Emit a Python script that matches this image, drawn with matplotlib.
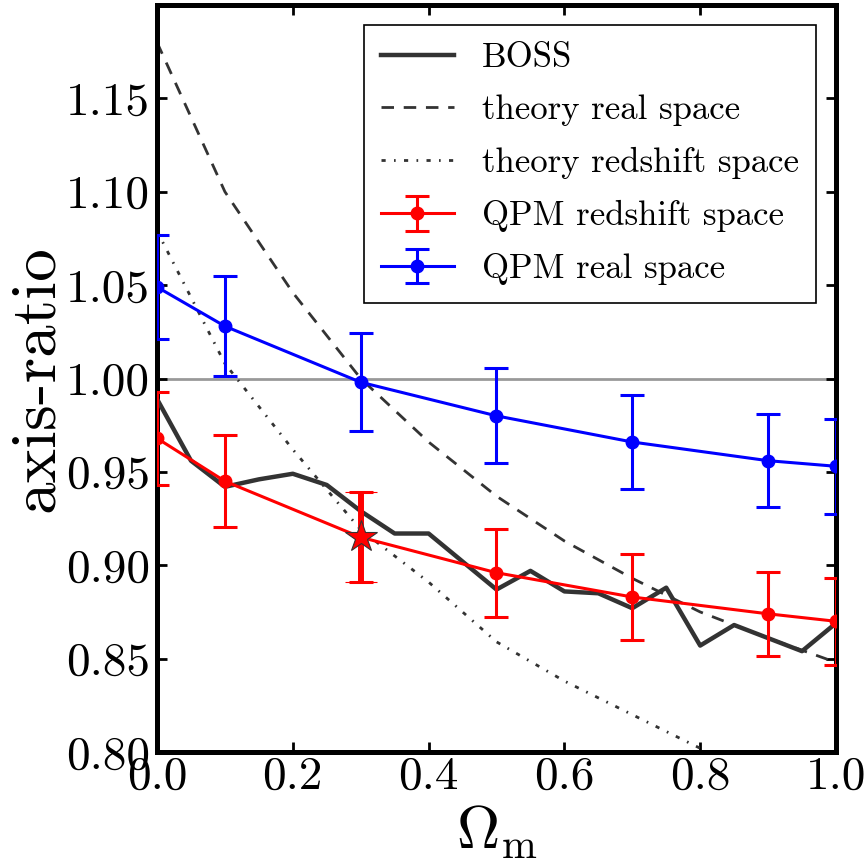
import numpy as np
import matplotlib
matplotlib.use("Agg")
import matplotlib.pyplot as plt

# ------------------- DADOS -------------------
omega_boss = [0.0, 0.05, 0.1, 0.15, 0.2, 0.25, 0.3, 0.35, 0.4, 0.45, 0.5,
              0.55, 0.6, 0.65, 0.7, 0.75, 0.8, 0.85, 0.9, 0.95, 1.0]
ratio_boss = [0.989, 0.956, 0.942, 0.946, 0.949, 0.943, 0.929, 0.917, 0.917, 0.902, 0.887,
              0.897, 0.886, 0.885, 0.877, 0.888, 0.857, 0.868, 0.861, 0.854, 0.869]

omega_theory = [0.0, 0.1, 0.2, 0.3, 0.4, 0.5, 0.6, 0.7, 0.8, 0.9, 1.0]
theory_real = [1.180, 1.100, 1.046, 1.000, 0.966, 0.937, 0.913, 0.893, 0.875, 0.861, 0.848]
theory_redshift = [1.079, 1.008, 0.962, 0.919, 0.891, 0.859, 0.838, 0.820, 0.802, 0.787, 0.774]

omega_qpm = [0.0, 0.1, 0.3, 0.5, 0.7, 0.9, 1.0]
qpm_redshift = [0.968, 0.945, 0.915, 0.896, 0.883, 0.874, 0.870]
qpm_redshift_err = [0.025, 0.0245, 0.024, 0.0235, 0.023, 0.0225, 0.0233]
qpm_real = [1.049, 1.028, 0.998, 0.980, 0.966, 0.956, 0.953]
qpm_real_err = [0.028, 0.0268, 0.0262, 0.0255, 0.025, 0.025, 0.0253]

# ponto de referência (estrela)
omega_star = [0.3]
ratio_star = [0.915]
ratio_star_err = [0.024]

# ------------------- ESTILO -------------------
plt.rcParams["font.family"] = "serif"
plt.rcParams["font.serif"] = ["cmr10"]
plt.rcParams["mathtext.fontset"] = "cm"
plt.rcParams["axes.formatter.use_mathtext"] = True

fig = plt.figure(figsize=(8.68, 8.63), dpi=100)
ax = fig.add_axes([0.1809, 0.1286, 0.7822, 0.8656])

ax.axhline(1.0, color="#999999", lw=2, zorder=1)

ax.plot(omega_theory, theory_real, color="#333333", lw=2, ls=(0, (4.5, 3.5)),
        label="theory real space", zorder=2)
ax.plot(omega_theory, theory_redshift, color="#333333", lw=2, ls=(0, (1.5, 3, 0.6, 3)),
        label="theory redshift space", zorder=2)
ax.plot(omega_boss, ratio_boss, color="#333333", lw=3.2, label="BOSS", zorder=3)

ax.errorbar(omega_qpm, qpm_redshift, yerr=qpm_redshift_err, color="red", fmt="-o",
            lw=2.2, ms=9, capsize=8.5, capthick=2.2, elinewidth=2.2,
            label="QPM redshift space", zorder=4)
ax.errorbar(omega_qpm, qpm_real, yerr=qpm_real_err, color="blue", fmt="-o",
            lw=2.2, ms=9, capsize=8.5, capthick=2.2, elinewidth=2.2,
            label="QPM real space", zorder=4)

ax.errorbar(omega_star, ratio_star, yerr=ratio_star_err, color="red", fmt="*",
            ms=24, mec="#333333", mew=0.8, capsize=11.5, capthick=4.3, elinewidth=4.3,
            zorder=5)

ax.set_xlim(0, 1)
ax.set_ylim(0.8, 1.2)
ax.set_xticks([0.0, 0.2, 0.4, 0.6, 0.8, 1.0])
ax.set_yticks([0.80, 0.85, 0.90, 0.95, 1.00, 1.05, 1.10, 1.15])
ax.set_yticklabels(["0.80", "0.85", "0.90", "0.95", "1.00", "1.05", "1.10", "1.15"])
ax.set_xticklabels(["0.0", "0.2", "0.4", "0.6", "0.8", "1.0"])

ax.tick_params(direction="in", top=True, right=True, length=7, width=2,
               labelsize=34)
ax.tick_params(axis="x", pad=3)
ax.tick_params(axis="y", pad=5)
for s in ax.spines.values():
    s.set_linewidth(3.6)

ax.set_xlabel(r"$\Omega_{\rm m}$", fontsize=43, labelpad=4)
ax.set_ylabel("axis-ratio", fontsize=47, labelpad=0)

handles, labels = ax.get_legend_handles_labels()
order = ["BOSS", "theory real space", "theory redshift space",
         "QPM redshift space", "QPM real space"]
hmap = dict(zip(labels, handles))
leg = ax.legend([hmap[k] for k in order], order, loc="upper right",
                bbox_to_anchor=(0.9705, 0.9733), borderaxespad=0,
                fontsize=25, fancybox=False, framealpha=1, edgecolor="black",
                handlelength=2.1, handletextpad=0.8, labelspacing=0.6,
                borderpad=0.5)
leg.get_frame().set_linewidth(1.2)

plt.savefig("out.png", dpi=100)
